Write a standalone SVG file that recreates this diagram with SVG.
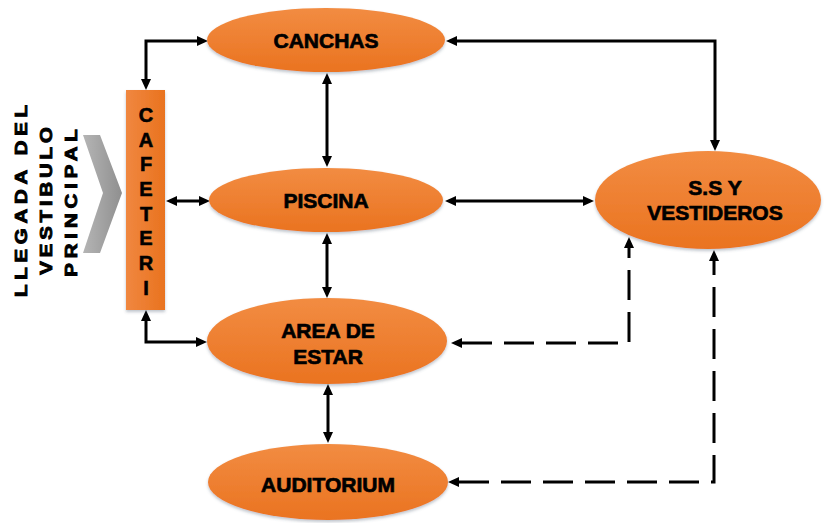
<svg xmlns="http://www.w3.org/2000/svg" width="826" height="523" viewBox="0 0 826 523">
<defs>
  <linearGradient id="og" x1="0" y1="0" x2="0" y2="1">
    <stop offset="0" stop-color="#f28c42"/>
    <stop offset="1" stop-color="#ea7320"/>
  </linearGradient>
  <linearGradient id="og2" x1="0" y1="0" x2="1" y2="0">
    <stop offset="0" stop-color="#f08740"/>
    <stop offset="1" stop-color="#e9731f"/>
  </linearGradient>
  <linearGradient id="gg" x1="0" y1="0" x2="1" y2="0">
    <stop offset="0" stop-color="#b5b5b5"/>
    <stop offset="1" stop-color="#8f8f8f"/>
  </linearGradient>
  <filter id="sh" x="-10%" y="-10%" width="120%" height="130%">
    <feDropShadow dx="0" dy="2" stdDeviation="1.8" flood-color="#4a5a70" flood-opacity="0.35"/>
  </filter>
  <marker id="ah" viewBox="0 0 11 10" refX="0" refY="5" markerWidth="11" markerHeight="10" markerUnits="userSpaceOnUse" orient="auto-start-reverse">
    <path d="M0,0 L11,5 L0,10 z" fill="#000"/>
  </marker>
</defs>
<style>
  .node { fill: url(#og); filter: url(#sh); }
  .lbl { font-family: "Liberation Sans", Arial, sans-serif; font-weight: bold; font-size: 21px; fill: #000; stroke: #000; stroke-width: 0.7; text-anchor: middle; }
  .side { font-family: "Liberation Sans", Arial, sans-serif; font-weight: bold; font-size: 17px; fill: #000; stroke: #000; stroke-width: 0.9; text-anchor: middle; }
  .caf { font-family: "Liberation Sans", Arial, sans-serif; font-weight: bold; font-size: 20px; fill: #000; stroke: #000; stroke-width: 0.6; text-anchor: middle; }
  .c { fill: none; stroke: #000; stroke-width: 3; marker-start: url(#ah); marker-end: url(#ah); }
  .d { fill: none; stroke: #000; stroke-width: 3; stroke-dasharray: 30 12; marker-start: url(#ah); marker-end: url(#ah); }
</style>
<rect width="826" height="523" fill="#fff"/>

<g id="entrada">
  <polygon points="83,135 100,135 122,193 100,253 83,253 103,193" fill="url(#gg)"/>
  <text class="side" transform="translate(27,201) rotate(-90) scale(1.2,1)" textLength="160" lengthAdjust="spacing">LLEGADA DEL</text>
  <text class="side" transform="translate(52,201) rotate(-90) scale(1.2,1)" textLength="123" lengthAdjust="spacing">VESTIBULO</text>
  <text class="side" transform="translate(77,203) rotate(-90) scale(1.2,1)" textLength="123" lengthAdjust="spacing">PRINCIPAL</text>
</g>

<g id="connectors">
  <path class="c" d="M197,41 H146 V79"/>
  <path class="c" d="M457,41 H715 V140"/>
  <path class="c" d="M327,84 V156"/>
  <path class="c" d="M177,201 H199"/>
  <path class="c" d="M456,201 H583"/>
  <path class="c" d="M327,244 V287"/>
  <path class="c" d="M146,321 V342 H196"/>
  <path class="c" d="M328,395 V432"/>
  <path class="d" d="M462,343 H629 V248"/>
  <path class="d" d="M459,482 H714 V261"/>
</g>

<g id="cafeteria">
  <rect x="126" y="90" width="39" height="220" fill="url(#og2)" filter="url(#sh)"/>
  <text class="caf" x="146" y="122">C</text>
  <text class="caf" x="146" y="147">A</text>
  <text class="caf" x="146" y="171">F</text>
  <text class="caf" x="146" y="196">E</text>
  <text class="caf" x="146" y="221">T</text>
  <text class="caf" x="146" y="245">E</text>
  <text class="caf" x="146" y="270">R</text>
  <text class="caf" x="146" y="295">I</text>
</g>

<g id="canchas">
  <ellipse class="node" cx="326" cy="40" rx="119" ry="32"/>
  <text class="lbl" x="326" y="48">CANCHAS</text>
</g>

<g id="piscina">
  <ellipse class="node" cx="326" cy="200" rx="117" ry="32"/>
  <text class="lbl" x="326" y="208">PISCINA</text>
</g>

<g id="area">
  <ellipse class="node" cx="327" cy="341" rx="120" ry="43"/>
  <text class="lbl" x="328" y="338">AREA DE</text>
  <text class="lbl" x="328" y="364">ESTAR</text>
</g>

<g id="auditorium">
  <ellipse class="node" cx="328" cy="482" rx="120" ry="38"/>
  <text class="lbl" x="328" y="492">AUDITORIUM</text>
</g>

<g id="ss">
  <ellipse class="node" cx="708" cy="200" rx="113" ry="49"/>
  <text class="lbl" x="715" y="195">S.S Y</text>
  <text class="lbl" x="715" y="220">VESTIDEROS</text>
</g>
</svg>
